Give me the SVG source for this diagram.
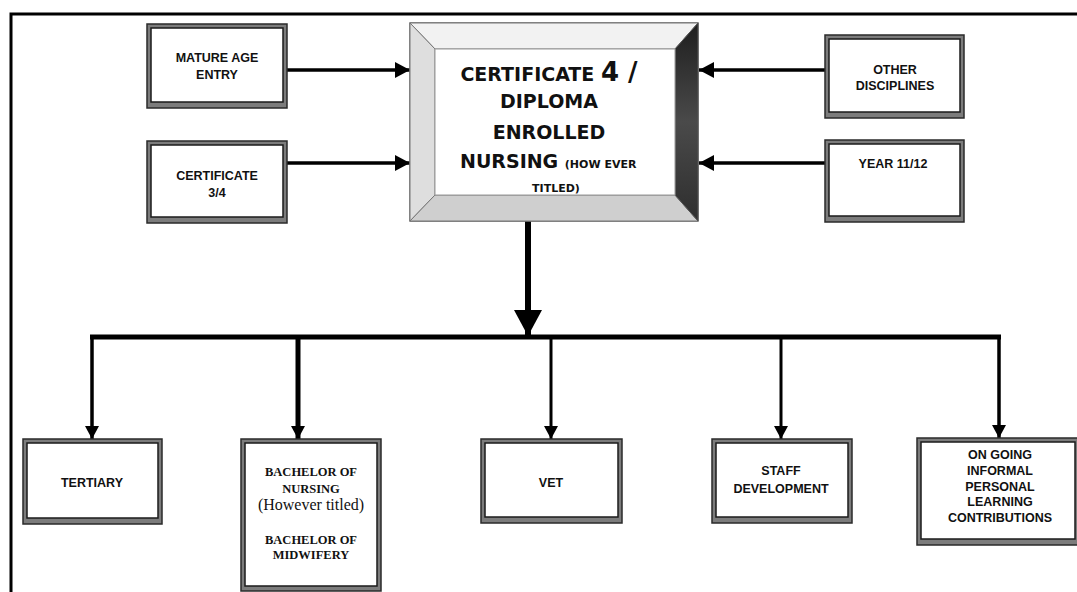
<svg xmlns="http://www.w3.org/2000/svg" width="1077" height="592" viewBox="0 0 1077 592">
<style>
.bo{fill:#7c7c7c;stroke:#2a2a2a;stroke-width:1.5}
.bi{fill:#fff;stroke:#1a1a1a;stroke-width:1.5}
.t{font-family:"Liberation Sans",Arial,sans-serif;font-weight:bold;font-size:12.5px;fill:#111;text-anchor:middle}
.s{font-family:"Liberation Serif","Times New Roman",serif;font-weight:bold;font-size:12.5px;fill:#111;text-anchor:middle}
.sr{font-family:"Liberation Serif","Times New Roman",serif;font-weight:normal;font-size:16px;fill:#111;text-anchor:middle}
.m{font-family:"DejaVu Sans",Verdana,sans-serif;font-weight:bold;fill:#111}
.c{fill:none;stroke:#000;stroke-linecap:butt}
</style>
<defs>
<marker id="ah" markerUnits="userSpaceOnUse" markerWidth="16" markerHeight="16" refX="15" refY="8" orient="auto"><path d="M0,0 L15,8 L0,16 z" fill="#000"/></marker>
<marker id="ad" markerUnits="userSpaceOnUse" markerWidth="14" markerHeight="14" refX="13" refY="7" orient="auto"><path d="M0,0 L13,7 L0,14 z" fill="#000"/></marker>
<marker id="ab" markerUnits="userSpaceOnUse" markerWidth="28" markerHeight="28" refX="26" refY="14" orient="auto"><path d="M0,0 L26,14 L0,28 z" fill="#000"/></marker>
<linearGradient id="dk" x1="0" y1="0" x2="0" y2="1"><stop offset="0" stop-color="#1e1e1e"/><stop offset="0.5" stop-color="#4a4a4a"/><stop offset="1" stop-color="#2e2e2e"/></linearGradient>
</defs>
<rect width="1077" height="592" fill="#fff"/>
<path d="M11,592 V14 H1077" fill="none" stroke="#000" stroke-width="3"/>

<g id="connectors">
<path class="c" d="M287,70 H410" stroke-width="3.5" marker-end="url(#ah)"/>
<path class="c" d="M287,163 H410" stroke-width="3.5" marker-end="url(#ah)"/>
<path class="c" d="M825,70 H699" stroke-width="3.5" marker-end="url(#ah)"/>
<path class="c" d="M825,163 H699" stroke-width="3.5" marker-end="url(#ah)"/>
<path class="c" d="M528,221 V336" stroke-width="6" marker-end="url(#ab)"/>
<path class="c" d="M90,337 H1001" stroke-width="5"/>
<path class="c" d="M92,337 V439" stroke-width="3.5" marker-end="url(#ad)"/>
<path class="c" d="M298,339 V439" stroke-width="5" marker-end="url(#ad)"/>
<path class="c" d="M551,339 V439" stroke-width="3" stroke="#444" marker-end="url(#ad)"/>
<path class="c" d="M781,339 V439" stroke-width="3" stroke="#444" marker-end="url(#ad)"/>
<path class="c" d="M999,337 V438" stroke-width="3.5" marker-end="url(#ad)"/>
</g>

<g id="main">
<rect x="410" y="23" width="288" height="198" fill="#fff" stroke="#666" stroke-width="1.5"/>
<polygon points="410,23 698,23 675,49 435,49" fill="#f2f2f2" stroke="#777" stroke-width="1"/>
<polygon points="410,23 435,49 435,195 410,221" fill="#dedede" stroke="#777" stroke-width="1"/>
<polygon points="410,221 435,195 675,195 698,221" fill="#cfcfcf" stroke="#777" stroke-width="1"/>
<polygon points="698,23 675,49 675,195 698,221" fill="url(#dk)" stroke="#555" stroke-width="1"/>
<rect x="435" y="49" width="240" height="146" fill="#fff" stroke="#999" stroke-width="1"/>
<text class="m" x="549" y="81" text-anchor="middle"><tspan font-size="19">CERTIFICATE </tspan><tspan font-size="26">4 /</tspan></text>
<text class="m" x="549" y="108" text-anchor="middle" font-size="19">DIPLOMA</text>
<text class="m" x="549" y="139" text-anchor="middle" font-size="19">ENROLLED</text>
<text class="m" x="460" y="168"><tspan font-size="19">NURSING </tspan><tspan font-size="11">(HOW EVER</tspan></text>
<text class="m" x="556" y="192" text-anchor="middle" font-size="11">TITLED)</text>
</g>

<g id="mature">
<rect class="bo" x="147" y="24" width="140" height="84"/>
<rect class="bi" x="151" y="28" width="132" height="74"/>
<text class="t" x="217" y="62">MATURE AGE</text>
<text class="t" x="217" y="79">ENTRY</text>
</g>

<g id="cert34">
<rect class="bo" x="147" y="141" width="140" height="82"/>
<rect class="bi" x="151" y="145" width="132" height="72"/>
<text class="t" x="217" y="180">CERTIFICATE</text>
<text class="t" x="217" y="197">3/4</text>
</g>

<g id="other">
<rect class="bo" x="825" y="35" width="139" height="83"/>
<rect class="bi" x="829" y="39" width="131" height="73"/>
<text class="t" x="895" y="74">OTHER</text>
<text class="t" x="895" y="90">DISCIPLINES</text>
</g>

<g id="year">
<rect class="bo" x="825" y="140" width="139" height="82"/>
<rect class="bi" x="829" y="144" width="131" height="72"/>
<text class="t" x="893" y="168">YEAR 11/12</text>
</g>

<g id="tertiary">
<rect class="bo" x="23" y="439" width="139" height="85"/>
<rect class="bi" x="27" y="443" width="131" height="75"/>
<text class="t" x="92" y="487">TERTIARY</text>
</g>

<g id="bachelor">
<rect class="bo" x="241" y="439" width="140" height="152"/>
<rect class="bi" x="245" y="443" width="132" height="143"/>
<text class="s" x="311" y="476">BACHELOR OF</text>
<text class="s" x="311" y="493">NURSING</text>
<text class="sr" x="311" y="510">(However titled)</text>
<text class="s" x="311" y="544">BACHELOR OF</text>
<text class="s" x="311" y="559">MIDWIFERY</text>
</g>

<g id="vet">
<rect class="bo" x="481" y="439" width="141" height="84"/>
<rect class="bi" x="485" y="443" width="133" height="74"/>
<text class="t" x="551" y="487">VET</text>
</g>

<g id="staff">
<rect class="bo" x="712" y="439" width="140" height="84"/>
<rect class="bi" x="716" y="443" width="132" height="74"/>
<text class="t" x="781" y="475">STAFF</text>
<text class="t" x="781" y="493">DEVELOPMENT</text>
</g>

<g id="ongoing">
<rect class="bo" x="917" y="438" width="162" height="107"/>
<rect class="bi" x="921" y="442" width="154" height="97"/>
<text class="t" x="1000" y="459">ON GOING</text>
<text class="t" x="1000" y="475">INFORMAL</text>
<text class="t" x="1000" y="491">PERSONAL</text>
<text class="t" x="1000" y="506">LEARNING</text>
<text class="t" x="1000" y="522">CONTRIBUTIONS</text>
</g>
</svg>
